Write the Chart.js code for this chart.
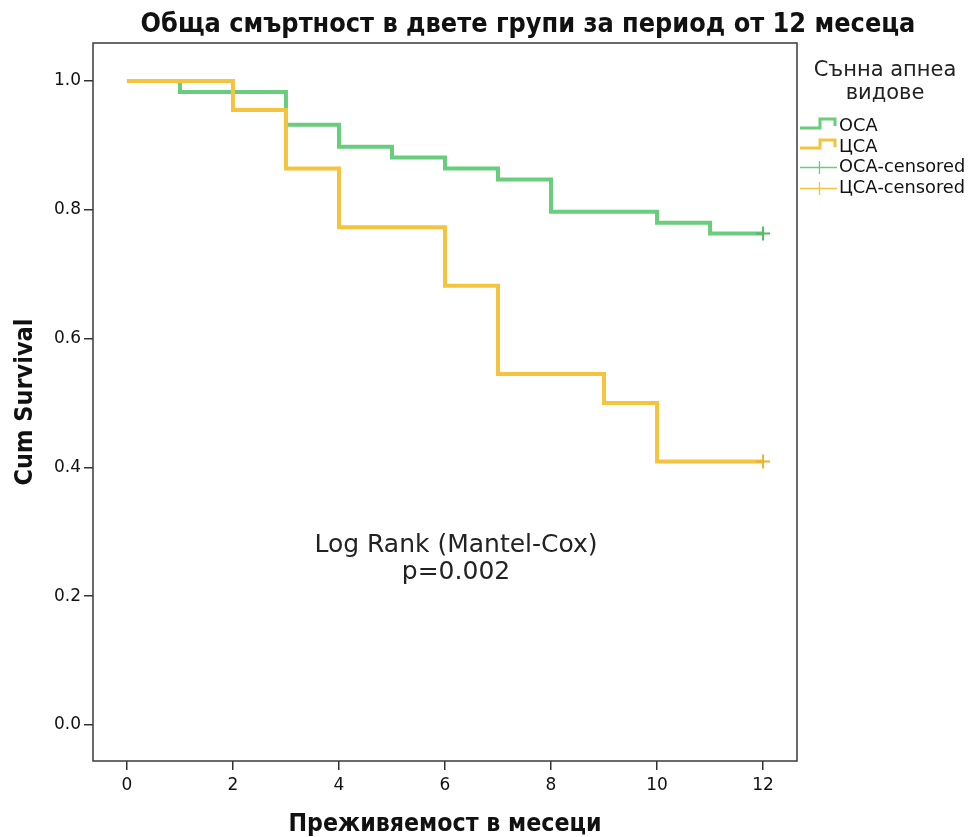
<!DOCTYPE html>
<html>
<head>
<meta charset="utf-8">
<script src="https://cdn.jsdelivr.net/npm/chart.js@4"></script>
<style>
  html, body { margin: 0; padding: 0; background: #fff; }
  #wrap { width: 973px; height: 837px; }
</style>
</head>
<body>
<div id="wrap"><canvas id="km" width="973" height="837"></canvas></div>
<script>
// Kaplan-Meier steps
const ocaMonths = [0, 1, 3, 4, 5, 6, 7, 8, 10, 11, 12];
const ocaSurvival = [1.0, 0.983, 0.932, 0.898, 0.881, 0.864, 0.847, 0.797, 0.780, 0.763, 0.763];
const csaMonths = [0, 2, 3, 4, 6, 7, 9, 10, 12];
const csaSurvival = [1.0, 0.955, 0.864, 0.773, 0.682, 0.545, 0.500, 0.409, 0.409];
const censorMonth = 12;
const ocaCensored = [0.763];
const csaCensored = [0.409];

const xTicks = [0, 2, 4, 6, 8, 10, 12];
const yTicks = [0.0, 0.2, 0.4, 0.6, 0.8, 1.0];

const GREEN = "#68cd7c";
const YELLOW = "#f6c33f";
const GREEN_DARK = "#55b86a";
const YELLOW_DARK = "#e8b530";

const toPoints = (xs, ys) => xs.map((x, i) => ({ x: x, y: ys[i] }));

// frame, title, legend and log-rank note
const decorations = {
  id: "decorations",
  afterDraw(chart) {
    const ctx = chart.ctx;
    const a = chart.chartArea;
    ctx.save();
    ctx.strokeStyle = "#3a3a3a";
    ctx.lineWidth = 1.5;
    ctx.strokeRect(a.left, a.top, a.right - a.left, a.bottom - a.top);

    ctx.fillStyle = "#111";
    ctx.textAlign = "center";
    ctx.textBaseline = "middle";
    ctx.font = "bold 26.8px 'DejaVu Sans Condensed', 'DejaVu Sans'";
    ctx.fillText("Обща смъртност в двете групи за период от 12 месеца", 528, 25);

    ctx.font = "25px 'DejaVu Sans'";
    ctx.fillStyle = "#222";
    ctx.fillText("Log Rank (Mantel-Cox)", 456, 545);
    ctx.fillText("p=0.002", 456, 572);

    // legend
    ctx.font = "21px 'DejaVu Sans'";
    ctx.fillText("Сънна апнеа", 885, 71);
    ctx.fillText("видове", 885, 94);

    ctx.lineWidth = 3;
    ctx.strokeStyle = GREEN;
    ctx.beginPath();
    ctx.moveTo(800, 128); ctx.lineTo(820, 128); ctx.lineTo(820, 119);
    ctx.lineTo(835, 119); ctx.lineTo(835, 126);
    ctx.stroke();
    ctx.strokeStyle = YELLOW;
    ctx.beginPath();
    ctx.moveTo(800, 148); ctx.lineTo(820, 148); ctx.lineTo(820, 140);
    ctx.lineTo(835, 140); ctx.lineTo(835, 147);
    ctx.stroke();

    ctx.lineWidth = 1.3;
    ctx.strokeStyle = GREEN;
    ctx.beginPath();
    ctx.moveTo(800, 167.5); ctx.lineTo(837, 167.5);
    ctx.moveTo(819.5, 161); ctx.lineTo(819.5, 174);
    ctx.stroke();
    ctx.strokeStyle = YELLOW;
    ctx.beginPath();
    ctx.moveTo(800, 188.5); ctx.lineTo(837, 188.5);
    ctx.moveTo(819.5, 182); ctx.lineTo(819.5, 195);
    ctx.stroke();

    ctx.textAlign = "left";
    ctx.fillStyle = "#111";
    ctx.font = "17.8px 'DejaVu Sans'";
    ctx.fillText("ОСА", 839, 126);
    ctx.fillText("ЦСА", 839, 147);
    ctx.fillText("ОСА-censored", 839, 167);
    ctx.fillText("ЦСА-censored", 839, 188);
    ctx.restore();
  }
};

new Chart(document.getElementById("km"), {
  type: "line",
  data: {
    datasets: [
      {
        label: "ОСА-censored",
        data: ocaCensored.map((y) => ({ x: censorMonth, y: y })),
        showLine: false,
        pointStyle: "cross",
        pointRadius: 7,
        borderColor: GREEN_DARK,
        borderWidth: 2,
        order: -2,
      },
      {
        label: "ЦСА-censored",
        data: csaCensored.map((y) => ({ x: censorMonth, y: y })),
        showLine: false,
        pointStyle: "cross",
        pointRadius: 7,
        borderColor: YELLOW_DARK,
        borderWidth: 2,
        order: -1,
      },
      {
        label: "ЦСА",
        data: toPoints(csaMonths, csaSurvival),
        stepped: true,
        borderColor: YELLOW,
        borderWidth: 4,
        pointRadius: 0,
        fill: false,
        order: 0,
      },
      {
        label: "ОСА",
        data: toPoints(ocaMonths, ocaSurvival),
        stepped: true,
        borderColor: GREEN,
        borderWidth: 4,
        pointRadius: 0,
        fill: false,
        order: 1,
      },
    ],
  },
  plugins: [decorations],
  options: {
    responsive: false,
    animation: false,
    layout: { padding: { left: 0, right: 176, top: 43, bottom: 0 } },
    plugins: {
      legend: { display: false },
      tooltip: { enabled: false },
    },
    scales: {
      x: {
        type: "linear",
        min: -0.64,
        max: 12.64,
        afterFit: (s) => { s.height = 76; },
        afterBuildTicks: (s) => { s.ticks = xTicks.map((v) => ({ value: v })); },
        grid: { drawOnChartArea: false, drawTicks: true, tickLength: 9, color: "#333", lineWidth: 1.5 },
        border: { display: false },
        ticks: { color: "#111", font: { family: "DejaVu Sans", size: 17 }, padding: 5, maxRotation: 0 },
        title: {
          display: true,
          text: "Преживяемост в месеци",
          color: "#111",
          font: { family: "'DejaVu Sans Condensed', 'DejaVu Sans'", size: 24.7, weight: "bold", lineHeight: 1 },
          padding: 0,
        },
      },
      y: {
        type: "linear",
        min: -0.056,
        max: 1.059,
        afterFit: (s) => { s.width = 93; },
        afterBuildTicks: (s) => { s.ticks = yTicks.map((v) => ({ value: v })); },
        grid: { drawOnChartArea: false, drawTicks: true, tickLength: 9, color: "#333", lineWidth: 1.5 },
        border: { display: false },
        ticks: {
          color: "#111",
          font: { family: "DejaVu Sans", size: 17 },
          padding: 3,
          callback: (v) => Number(v).toFixed(1),
        },
        title: {
          display: true,
          text: "Cum Survival",
          color: "#111",
          font: { family: "'DejaVu Sans Condensed', 'DejaVu Sans'", size: 25, weight: "bold", lineHeight: 1 },
          padding: { top: 13, bottom: 0 },
        },
      },
    },
  },
});
</script>
</body>
</html>
